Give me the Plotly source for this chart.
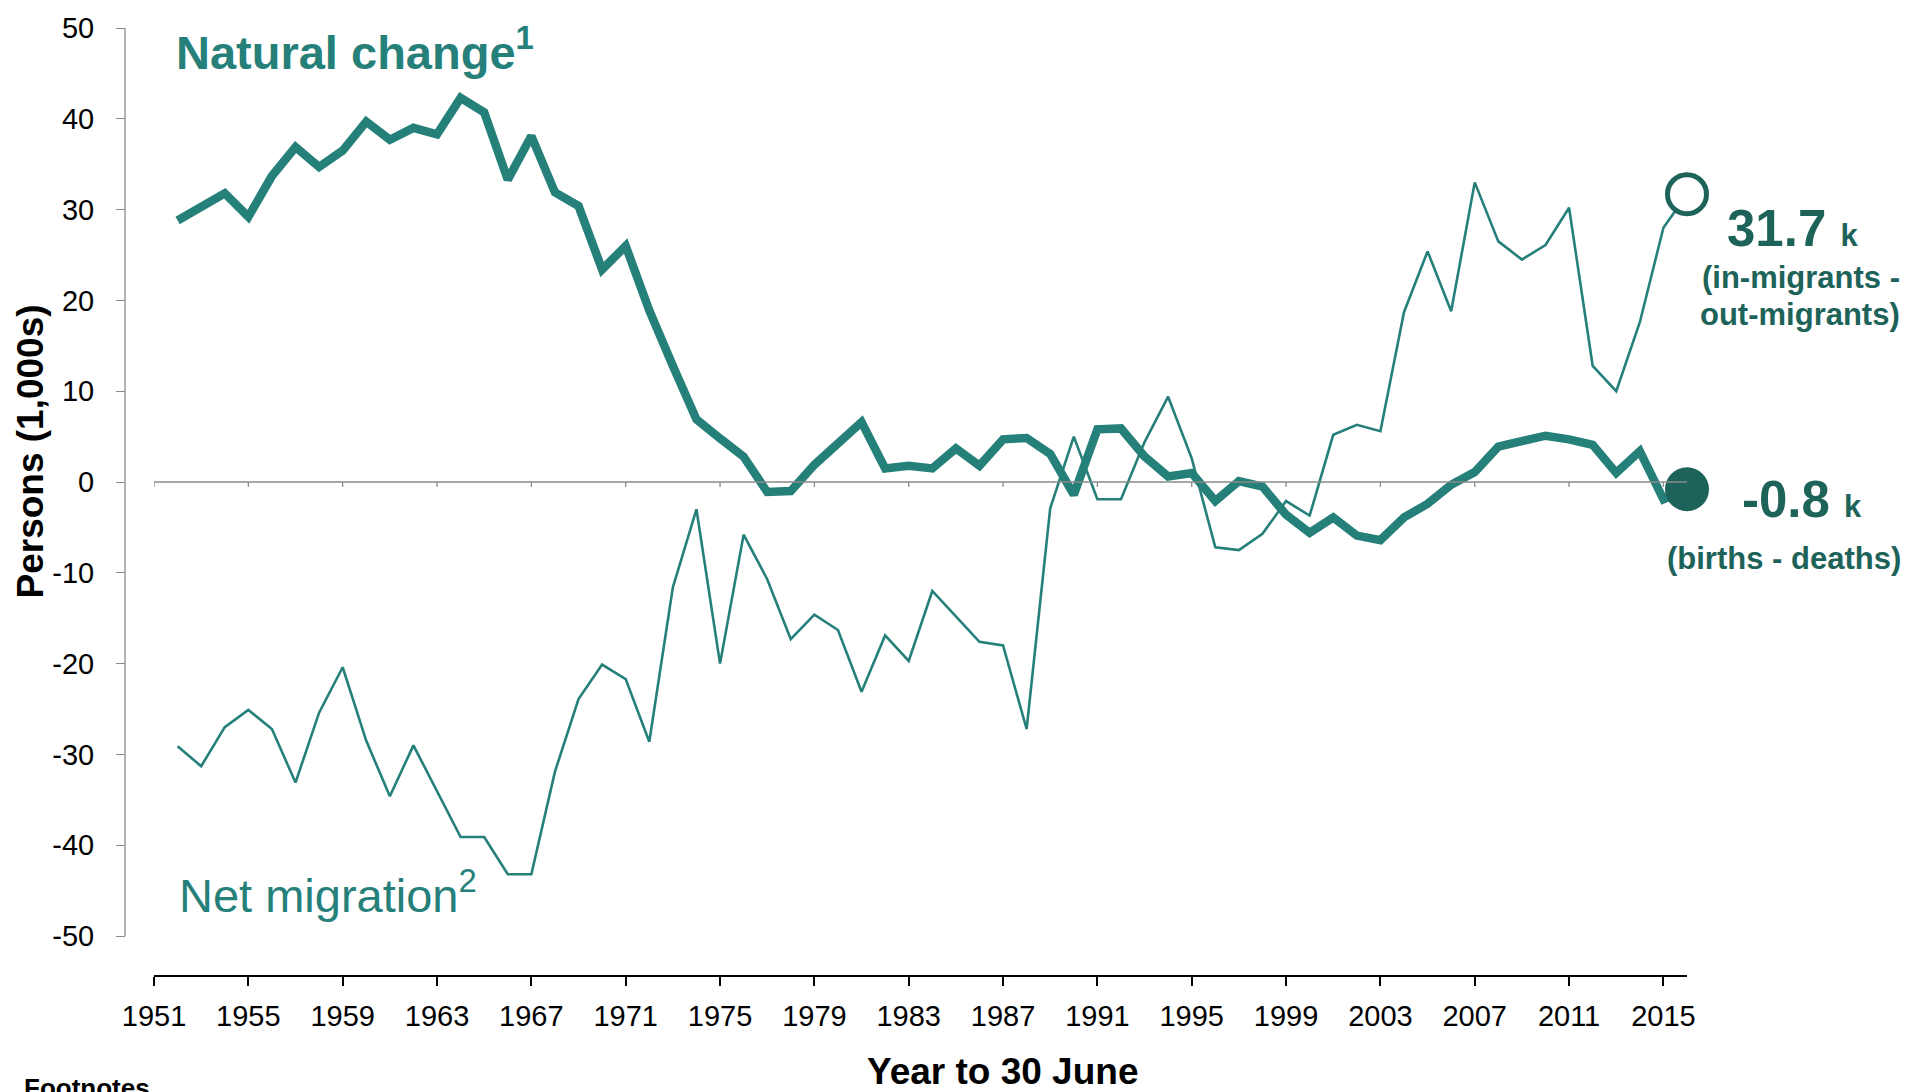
import plotly.graph_objects as go

# ---------------- data ----------------
years = list(range(1952, 2017))
natural_change = [28.8, 30.4, 31.8, 29.2, 33.7, 36.9, 34.7, 36.5, 39.7, 37.7,
                  39.0, 38.3, 42.3, 40.7, 33.3, 38.1, 31.9, 30.4, 23.4, 26.0,
                  18.9, 12.8, 6.9, 4.8, 2.8, -1.1, -1.0, 1.9, 4.4, 6.6,
                  1.5, 1.8, 1.5, 3.7, 1.8, 4.7, 4.85, 3.1, -1.4, 5.8,
                  5.9, 2.8, 0.6, 1.0, -2.1, 0.1, -0.5, -3.6, -5.6, -3.9,
                  -5.9, -6.4, -3.9, -2.4, -0.3, 1.1, 3.9, 4.6, 5.1, 4.7,
                  4.1, 1.0, 3.4, -1.9, -0.8]
net_migration = [-29.1, -31.3, -27.0, -25.1, -27.2, -33.1, -25.4, -20.4, -28.5, -34.6,
                 -29.0, -34.0, -39.1, -39.1, -43.2, -43.2, -31.9, -23.9, -20.1, -21.7,
                 -28.6, -11.6, -3.0, -20.0, -5.8, -10.7, -17.3, -14.6, -16.3, -23.1,
                 -16.9, -19.7, -12.0, -14.8, -17.6, -18.0, -27.2, -2.9, 5.0, -1.9,
                 -1.9, 4.4, 9.4, 2.6, -7.2, -7.5, -5.7, -2.1, -3.7, 5.2,
                 6.3, 5.6, 18.7, 25.4, 18.8, 33.0, 26.5, 24.5, 26.1, 30.2,
                 12.8, 10.0, 17.6, 28.0, 31.7]
x_tick_years = list(range(1951, 2016, 4))
x_tick_labels = [str(y) for y in x_tick_years]
y_tick_vals = list(range(-50, 51, 10))
y_tick_labels = [str(v) for v in y_tick_vals]

# ---------------- styling ----------------
TEAL = "#26807A"
DARK = "#1D6359"
GRAY = "#8A8A8A"
FONT = "Liberation Sans, Arial, sans-serif"

W, H = 1925, 1092
L, R, T, B = 125, 238.3, 18, 116
plot_w = W - L - R
plot_h = H - T - B


def px_x(px):
    return (px - L) / plot_w


def px_y(py):
    return 1 - (py - T) / plot_h


fig = go.Figure()

fig.add_trace(go.Scatter(x=years, y=net_migration, mode="lines",
                         line=dict(color=TEAL, width=2.6), hoverinfo="skip",
                         showlegend=False))
fig.add_trace(go.Scatter(x=years, y=natural_change, mode="lines",
                         line=dict(color=TEAL, width=8.5), hoverinfo="skip",
                         showlegend=False))
fig.add_trace(go.Scatter(x=[years[-1]], y=[net_migration[-1]], mode="markers",
                         marker=dict(size=39, color="white",
                                     line=dict(color=DARK, width=5)),
                         cliponaxis=False, hoverinfo="skip", showlegend=False))
fig.add_trace(go.Scatter(x=[years[-1]], y=[natural_change[-1]], mode="markers",
                         marker=dict(size=44, color=DARK),
                         cliponaxis=False, hoverinfo="skip", showlegend=False))

shapes = []
# bottom x-axis line
shapes.append(dict(type="line", xref="x", yref="paper", x0=x_tick_years[0], x1=years[-1],
                   y0=0, y1=0, line=dict(color="black", width=2)))
# left y-axis line (from -50 to 50)
shapes.append(dict(type="line", xref="paper", yref="y", x0=0, x1=0,
                   y0=y_tick_vals[0], y1=y_tick_vals[-1], line=dict(color=GRAY, width=1.3)))
# zero line
shapes.append(dict(type="line", xref="x", yref="y", x0=x_tick_years[0], x1=years[-1],
                   y0=0, y1=0, line=dict(color=GRAY, width=1.3)))
# small ticks on the zero line
for yr in x_tick_years:
    shapes.append(dict(type="line", xref="x", yref="y", ysizemode="pixel", yanchor=0,
                       x0=yr, x1=yr, y0=0, y1=-5, line=dict(color=GRAY, width=1.3)))

annotations = [
    dict(text="<b>Natural change<sup>1</sup></b>", x=px_x(174), y=px_y(39),
         xanchor="left", yanchor="middle", font=dict(size=47, color=TEAL)),
    dict(text="Net migration<sup>2</sup>", x=px_x(177), y=px_y(891),
         xanchor="left", yanchor="middle", font=dict(size=47, color=TEAL)),
    dict(text="<b>31.7 <span style='font-size:31px'>k</span></b>", x=px_x(1725), y=px_y(221),
         xanchor="left", yanchor="middle", font=dict(size=51, color=DARK)),
    dict(text="<b>(in-migrants -</b>", x=px_x(1902), y=px_y(270),
         xanchor="right", yanchor="middle", font=dict(size=31, color=DARK)),
    dict(text="<b>out-migrants)</b>", x=px_x(1902), y=px_y(308),
         xanchor="right", yanchor="middle", font=dict(size=31, color=DARK)),
    dict(text="<b>-0.8 <span style='font-size:31px'>k</span></b>", x=px_x(1740), y=px_y(494),
         xanchor="left", yanchor="middle", font=dict(size=51, color=DARK)),
    dict(text="<b>(births - deaths)</b>", x=px_x(1903), y=px_y(554),
         xanchor="right", yanchor="middle", font=dict(size=31, color=DARK)),
    dict(text="<b>Persons (1,000s)</b>", x=px_x(31), y=px_y(446), textangle=-90,
         xanchor="center", yanchor="middle", font=dict(size=37, color="black")),
    dict(text="<b>Year to 30 June</b>", x=px_x(1002), y=px_y(1073),
         xanchor="center", yanchor="middle", font=dict(size=37, color="black")),
    dict(text="<b>Footnotes</b>", x=px_x(22), y=px_y(1089),
         xanchor="left", yanchor="middle", font=dict(size=26, color="black")),
]
for a in annotations:
    a.update(xref="paper", yref="paper", showarrow=False)

fig.update_layout(
    width=W, height=H,
    margin=dict(l=L, r=R, t=T, b=B, pad=0),
    paper_bgcolor="white", plot_bgcolor="white",
    font=dict(family=FONT, color="black"),
    showlegend=False,
    shapes=shapes,
    annotations=annotations,
    xaxis=dict(domain=[px_x(154), 1], range=[x_tick_years[0], years[-1]],
               tickmode="array", tickvals=x_tick_years, ticktext=x_tick_labels,
               ticks="outside", ticklen=9, tickwidth=1.5, tickcolor="black",
               ticklabelstandoff=5,
               tickfont=dict(size=29, color="black", family=FONT),
               showline=False, showgrid=False, zeroline=False),
    yaxis=dict(anchor="free", position=0, range=[-54.4, 50],
               tickmode="array", tickvals=y_tick_vals, ticktext=y_tick_labels,
               ticks="outside", ticklen=9, tickwidth=1.3, tickcolor=GRAY,
               ticklabelstandoff=16,
               tickfont=dict(size=29, color="black", family=FONT),
               showline=False, showgrid=False, zeroline=False),
)

fig.write_html("out.html",
               config={"displayModeBar": False},
               post_script="document.body.style.margin='0px';"
                           "document.body.style.overflow='hidden';")
